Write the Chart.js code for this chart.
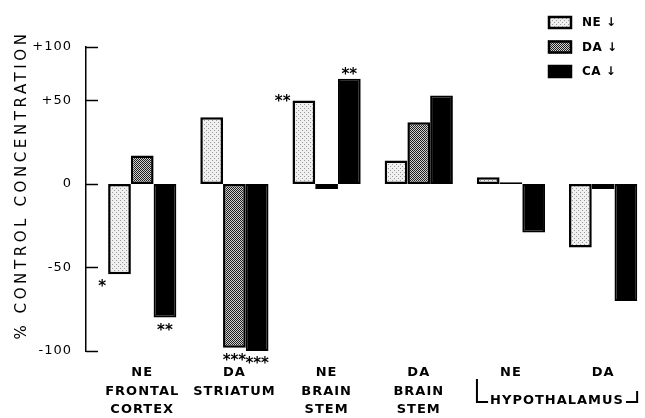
<!DOCTYPE html>
<html>
<head>
<meta charset="utf-8">
<script src="https://cdn.jsdelivr.net/npm/chart.js@4.4.1/dist/chart.umd.min.js"></script>
<style>
  html, body { margin: 0; padding: 0; background: #fff; }
  #wrap { width: 645px; height: 418px; }
</style>
</head>
<body>
<div id="wrap"><canvas id="chart"></canvas></div>
<script>
// brain regions, one slot each on the x axis
const groupPos = [1, 2, 3, 4, 5, 6];
const groupLabels = [
  ["NE", "FRONTAL", "CORTEX"],
  ["DA", "STRIATUM"],
  ["NE", "BRAIN", "STEM"],
  ["DA", "BRAIN", "STEM"],
  ["NE"],
  ["DA"],
];
const bracketLabel = "HYPOTHALAMUS";

const seriesNames = ["NE \u2193", "DA \u2193", "CA \u2193"];
const neValues = [-54, 40, 50, 14, 4, -38];
const daValues = [17, -98, -3, 37, 1, -3];
const caValues = [-80, -100, 63, 53, -29, -70];

// significance marks
const neStars = ["*", "", "**", "", "", ""];
const daStars = ["", "***", "", "", "", ""];
const caStars = ["**", "***", "**", "", "", ""];

// the axis top is labelled +100 in the original
const yTickValues = [-100, -50, 0, 50, 82];
const yTickLabels = ["-100", "-50", "0", "+50", "+100"];
const yTitle = "% CONTROL CONCENTRATION";

const canvas = document.getElementById("chart");
const ctx = canvas.getContext("2d");

function makePattern(size, bg, fg, dots) {
  const c = document.createElement("canvas");
  c.width = size;
  c.height = size;
  const g = c.getContext("2d");
  g.fillStyle = bg;
  g.fillRect(0, 0, size, size);
  g.fillStyle = fg;
  dots.forEach(function (d) {
    g.fillRect(d[0], d[1], 1, 1);
  });
  return ctx.createPattern(c, "repeat");
}

const nePattern = makePattern(4, "#f0f0f0", "#9a9a9a", [[0, 0], [2, 2]]);
const daPattern = makePattern(2, "#d0d0d0", "#1e1e1e", [[0, 0], [1, 1]]);

function toPoints(values) {
  return groupPos.map(function (x, i) {
    return { x: x, y: values[i] };
  });
}

const spacingPlugin = {
  id: "spacing",
  beforeLayout(chart) {
    chart.ctx.letterSpacing = "1px";
  },
  beforeDraw(chart) {
    chart.ctx.letterSpacing = "1px";
  },
};

const extrasPlugin = {
  id: "extras",
  afterDraw(chart) {
    const c = chart.ctx;
    const xs = chart.scales.x;
    const ys = chart.scales.y;
    const axisX = chart.chartArea.left;

    c.save();
    c.strokeStyle = "#000";
    c.lineWidth = 1.5;
    // inward tick marks
    yTickValues.forEach(function (v) {
      const py = Math.round(ys.getPixelForValue(v)) + 0.5;
      c.beginPath();
      c.moveTo(axisX, py);
      c.lineTo(axisX + 12, py);
      c.stroke();
    });

    // significance stars
    const stars = [neStars, daStars, caStars];
    c.fillStyle = "#000";
    c.font = "bold 15px 'DejaVu Sans'";
    c.letterSpacing = "0px";
    chart.data.datasets.forEach(function (ds, di) {
      const meta = chart.getDatasetMeta(di);
      meta.data.forEach(function (bar, i) {
        const s = stars[di][i];
        if (!s) return;
        const neg = ds.data[i].y < 0;
        if (di === 0) {
          c.textAlign = "right";
          c.fillText(s, bar.x - bar.width / 2 - 2, (neg ? bar.y + 8 : bar.y - 3) + 9);
        } else {
          c.textAlign = "center";
          c.fillText(s, bar.x, (neg ? bar.y + 8 : bar.y - 9) + 9);
        }
      });
    });

    // hypothalamus bracket
    const p5 = xs.getPixelForValue(5);
    const p6 = xs.getPixelForValue(6);
    const mid = (p5 + p6) / 2;
    const by = 402;
    c.font = "bold 13px 'DejaVu Sans'";
    c.letterSpacing = "1px";
    c.textAlign = "center";
    c.textBaseline = "middle";
    c.fillText(bracketLabel, mid, by - 1);
    const half = c.measureText(bracketLabel).width / 2;
    c.lineWidth = 2;
    c.beginPath();
    c.moveTo(p5 - 34, 379);
    c.lineTo(p5 - 34, by);
    c.lineTo(mid - half - 2, by);
    c.moveTo(mid + half + 2, by);
    c.lineTo(p6 + 34, by);
    c.lineTo(p6 + 34, 391);
    c.stroke();

    // y title
    c.save();
    c.translate(22, 185);
    c.rotate(-Math.PI / 2);
    c.font = "15px 'DejaVu Sans'";
    c.letterSpacing = "3.6px";
    c.textAlign = "center";
    c.textBaseline = "middle";
    c.fillText(yTitle, 0, 0);
    c.restore();

    // legend
    c.letterSpacing = "0.5px";
    c.font = "bold 12px 'DejaVu Sans'";
    c.textAlign = "left";
    c.textBaseline = "middle";
    chart.data.datasets.forEach(function (ds, di) {
      const ly = 16 + di * 24.5;
      c.fillStyle = ds.backgroundColor;
      c.fillRect(548, ly, 24, 13);
      c.lineWidth = 2.5;
      c.strokeRect(549, ly + 1, 22, 11);
      c.fillStyle = "#000";
      c.fillText(ds.label, 582, ly + 7);
    });
    c.restore();
  },
};

const chart = new Chart(ctx, {
  type: "bar",
  data: {
    datasets: [
      {
        label: seriesNames[0],
        data: toPoints(neValues),
        backgroundColor: nePattern,
        borderColor: "#000",
        borderWidth: 2.5,
        borderSkipped: false,
      },
      {
        label: seriesNames[1],
        data: toPoints(daValues),
        backgroundColor: daPattern,
        borderColor: "#000",
        borderWidth: 2.5,
        borderSkipped: false,
      },
      {
        label: seriesNames[2],
        data: toPoints(caValues),
        backgroundColor: "#000",
        borderColor: "#000",
        borderWidth: 2,
        borderSkipped: false,
      },
    ],
  },
  options: {
    responsive: true,
    maintainAspectRatio: false,
    animation: false,
    layout: {
      padding: { top: 47, right: 5, left: 0, bottom: 0 },
    },
    datasets: {
      bar: { categoryPercentage: 0.74, barPercentage: 1.0 },
    },
    plugins: {
      legend: { display: false },
      tooltip: { enabled: false },
    },
    scales: {
      x: {
        type: "linear",
        offset: false,
        min: 0.39,
        max: 6.4,
        grid: { display: false, drawTicks: false },
        border: { display: false },
        afterBuildTicks: function (scale) {
          scale.ticks = groupPos.map(function (v) {
            return { value: v };
          });
        },
        afterFit: function (scale) {
          scale.height = 67;
        },
        ticks: {
          callback: function (value) {
            const i = groupPos.indexOf(value);
            return i >= 0 ? groupLabels[i] : "";
          },
          padding: 13,
          color: "#000",
          maxRotation: 0,
          autoSkip: false,
          font: { family: "DejaVu Sans", weight: "bold", size: 13, lineHeight: 1.4 },
        },
      },
      y: {
        min: -100,
        max: 82,
        grid: { display: false, drawTicks: false },
        border: { display: true, color: "#000", width: 1.5 },
        afterBuildTicks: function (scale) {
          scale.ticks = yTickValues.map(function (v) {
            return { value: v };
          });
        },
        afterFit: function (scale) {
          scale.width = 86;
        },
        ticks: {
          callback: function (value) {
            const i = yTickValues.indexOf(value);
            return i >= 0 ? yTickLabels[i] : "";
          },
          padding: 14,
          color: "#000",
          font: { family: "DejaVu Sans", size: 13 },
        },
      },
    },
  },
  plugins: [spacingPlugin, extrasPlugin],
});
</script>
</body>
</html>
